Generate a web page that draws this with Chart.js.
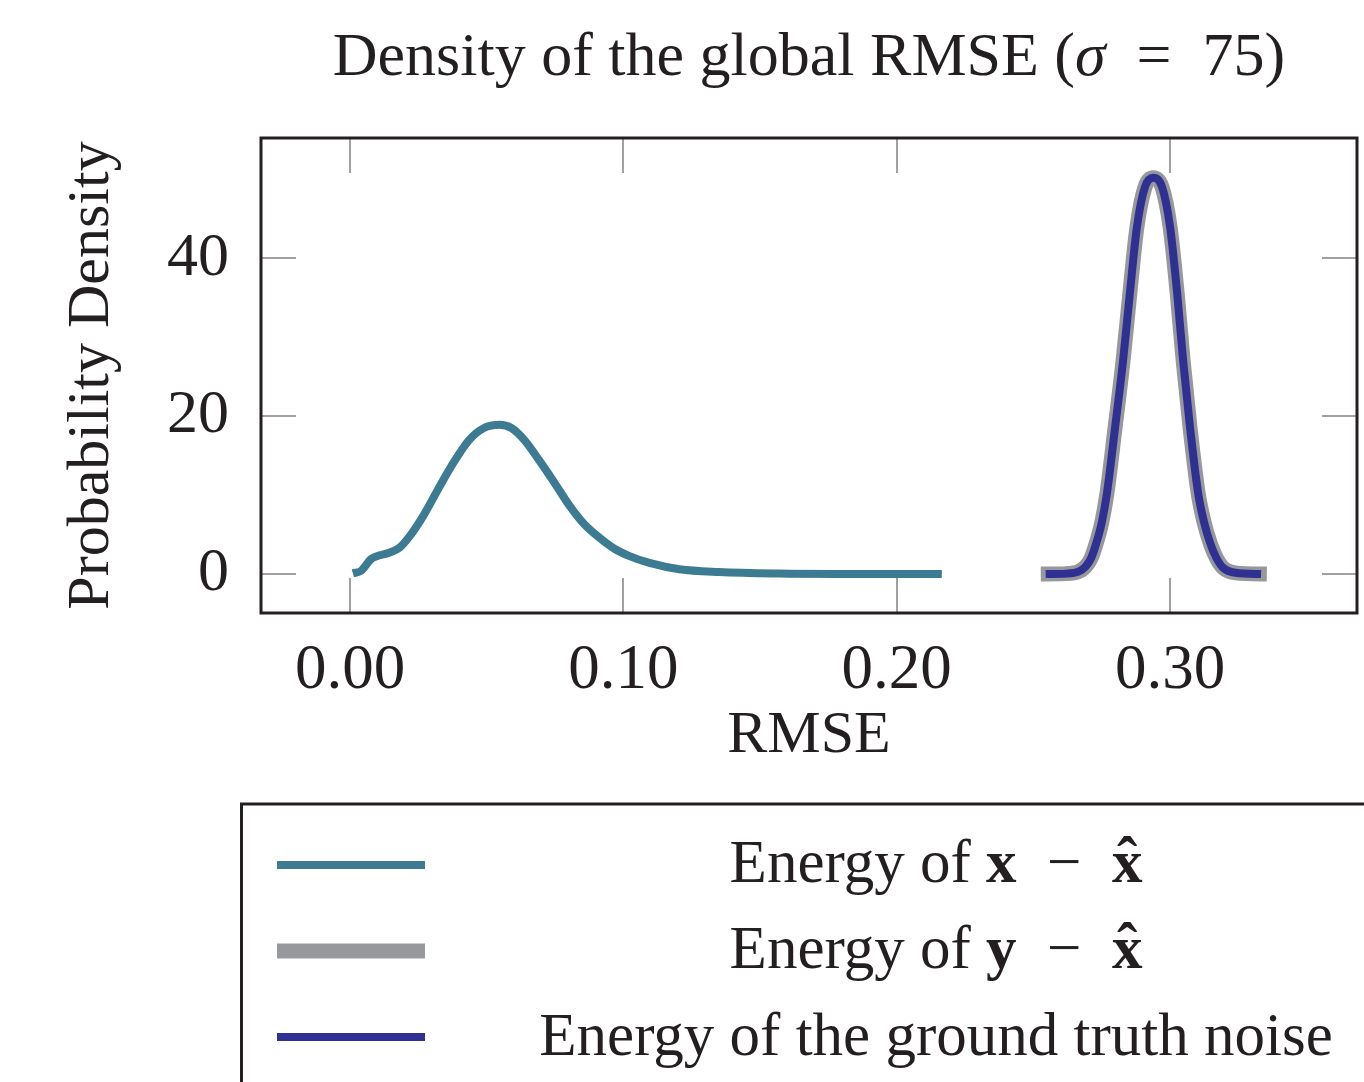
<!DOCTYPE html>
<html lang="en">
<head>
<meta charset="UTF-8" />
<title>Density of the global RMSE</title>
<script src="https://cdn.jsdelivr.net/npm/chart.js"></script>
<style>
    body { margin: 0; background: #fff; }
    canvas { display: block; }
</style>
</head>
<body>
<canvas id="rmseChart" width="1364" height="1082"></canvas>
<script>
    // tick values
    const xTicks = [0, 0.1, 0.2, 0.3]
    const yTicks = [0, 20, 40]

    // Energy of x - x_hat
    const xErrX = [0.001, 0.004, 0.0077, 0.0143, 0.018, 0.0216, 0.027, 0.0326, 0.038, 0.0436, 0.049, 0.0546, 0.059, 0.0637, 0.0692, 0.0747, 0.0802, 0.0857, 0.0912, 0.0967, 0.102, 0.1095, 0.1205, 0.135, 0.157, 0.183, 0.2165]
    const xErrY = [0.1, 0.4, 1.9, 2.7, 3.3, 4.7, 7.5, 11, 14.2, 17, 18.5, 18.9, 18.5, 17, 14.4, 11.6, 8.7, 6.3, 4.6, 3.2, 2.3, 1.4, 0.6, 0.25, 0.06, 0.01, 0]

    // Energy of y - x_hat
    const yErrX = [0.2527, 0.262, 0.2665, 0.269, 0.2711, 0.273, 0.275, 0.2769, 0.2799, 0.2828, 0.2853, 0.2879, 0.2908, 0.2938, 0.2971, 0.3, 0.3026, 0.3048, 0.3073, 0.3103, 0.3125, 0.3147, 0.317, 0.3194, 0.324, 0.3354]
    const yErrY = [0, 0.05, 0.3, 0.9, 2.0, 3.9, 6.5, 10.2, 18.6, 27, 35.6, 44, 49, 50.2, 49, 44, 35.6, 27, 18.6, 10.2, 6.5, 3.9, 2.0, 0.8, 0.15, 0]

    // Energy of the ground truth noise
    const noiseX = [0.2545, 0.262, 0.2665, 0.269, 0.2711, 0.273, 0.275, 0.2769, 0.2799, 0.2828, 0.2853, 0.2879, 0.2908, 0.2938, 0.2971, 0.3, 0.3026, 0.3048, 0.3073, 0.3103, 0.3125, 0.3147, 0.317, 0.3194, 0.324, 0.3333]
    const noiseY = [0, 0.05, 0.3, 0.9, 2.0, 3.9, 6.5, 10.2, 18.6, 27, 35.6, 44, 49, 50.2, 49, 44, 35.6, 27, 18.6, 10.2, 6.5, 3.9, 2.0, 0.8, 0.15, 0]

    const seriesColors = ["#3d7b92", "#97989c", "#2e3192"]
    const seriesWidths = [8, 15, 8]

    // legend texts, split so the math parts can be set in bold
    const legendTexts = [
        [["Energy of ", ""], ["x", "bold"], ["\u2002\u2212\u2002", ""], ["x", "hat"]],
        [["Energy of ", ""], ["y", "bold"], ["\u2002\u2212\u2002", ""], ["x", "hat"]],
        [["Energy of the ground truth noise", ""]],
    ]

    const SERIF = '"Liberation Serif", "DejaVu Serif", serif'
    const INK = "#231f20"

    function toPoints(xs, ys) {
        return xs.map((x, i) => ({ x: x, y: ys[i] }))
    }

    // draws a line of text pieces centered on cx
    function drawPieces(ctx, pieces, cx, baseline, size) {
        const fontOf = (kind) => {
            if (kind === "italic") return "italic " + size + "px " + SERIF
            return (kind ? "bold " : "") + size + "px " + SERIF
        }
        let total = 0
        pieces.forEach(([t, kind]) => {
            ctx.font = fontOf(kind)
            total += ctx.measureText(t).width
        })
        let x = cx - total / 2
        ctx.textAlign = "left"
        ctx.textBaseline = "alphabetic"
        pieces.forEach(([t, kind]) => {
            ctx.font = fontOf(kind)
            const w = ctx.measureText(t).width
            ctx.fillText(t, x, baseline)
            if (kind === "hat") {
                ctx.textAlign = "center"
                ctx.fillText("\u02c6", x + w / 2, baseline - 2)
                ctx.textAlign = "left"
            }
            x += w
        })
    }

    const framePlugin = {
        id: "frame",
        beforeDatasetsDraw(chart) {
            const { ctx, chartArea: a, scales } = chart
            ctx.save()
            ctx.strokeStyle = "#a0a0a4"
            ctx.lineWidth = 2
            const len = 35
            xTicks.forEach((v) => {
                const px = Math.round(scales.x.getPixelForValue(v))
                ctx.beginPath()
                ctx.moveTo(px, a.top)
                ctx.lineTo(px, a.top + len)
                ctx.moveTo(px, a.bottom)
                ctx.lineTo(px, a.bottom - len)
                ctx.stroke()
            })
            yTicks.forEach((v) => {
                const py = Math.round(scales.y.getPixelForValue(v))
                ctx.beginPath()
                ctx.moveTo(a.left, py)
                ctx.lineTo(a.left + len, py)
                ctx.moveTo(a.right, py)
                ctx.lineTo(a.right - len, py)
                ctx.stroke()
            })
            ctx.restore()
        },
        afterDraw(chart) {
            const { ctx, chartArea: a } = chart
            ctx.save()
            ctx.strokeStyle = INK
            ctx.lineWidth = 3
            ctx.strokeRect(a.left, a.top, a.right - a.left, a.bottom - a.top)

            ctx.fillStyle = INK
            const cx = (a.left + a.right) / 2
            // title
            drawPieces(ctx, [["Density of the global RMSE (", ""], ["\u03c3", "italic"], ["\u2002=\u200275)", ""]], cx, 75, 62)

            // axis titles
            ctx.textAlign = "center"
            ctx.font = "60px " + SERIF
            ctx.fillText("RMSE", cx, 752)
            ctx.save()
            ctx.translate(108, (a.top + a.bottom) / 2)
            ctx.rotate(-Math.PI / 2)
            ctx.fillText("Probability Density", 0, 0)
            ctx.restore()

            // legend box
            ctx.strokeRect(241.5, 804, 1200, 400)
            const rowY = [865, 951, 1037]
            const baseY = [882, 968, 1055]
            rowY.forEach((y, i) => {
                ctx.strokeStyle = seriesColors[i]
                ctx.lineWidth = seriesWidths[i]
                ctx.beginPath()
                ctx.moveTo(277, y)
                ctx.lineTo(425, y)
                ctx.stroke()
                drawPieces(ctx, legendTexts[i], 936, baseY[i], 61)
            })
            ctx.restore()
        },
    }

    const ctx = document.getElementById("rmseChart").getContext("2d")
    const chart = new Chart(ctx, {
        type: "line",
        data: {
            datasets: [
                {
                    label: "Energy of x - x_hat",
                    data: toPoints(xErrX, xErrY),
                    borderColor: seriesColors[0],
                    borderWidth: seriesWidths[0],
                    order: 2,
                },
                {
                    label: "Energy of y - x_hat",
                    data: toPoints(yErrX, yErrY),
                    borderColor: seriesColors[1],
                    borderWidth: seriesWidths[1],
                    order: 3,
                },
                {
                    label: "Energy of the ground truth noise",
                    data: toPoints(noiseX, noiseY),
                    borderColor: seriesColors[2],
                    borderWidth: seriesWidths[2],
                    order: 1,
                },
            ],
        },
        options: {
            responsive: false,
            animation: false,
            cubicInterpolationMode: "monotone",
            elements: { point: { radius: 0 }, line: { fill: false, borderJoinStyle: "round" } },
            layout: { padding: { top: 138, right: 7, bottom: 0, left: 0 } },
            plugins: { legend: { display: false }, tooltip: { enabled: false }, title: { display: false } },
            scales: {
                x: {
                    type: "linear",
                    min: -0.0326,
                    max: 0.3684,
                    afterBuildTicks: (s) => { s.ticks = xTicks.map((v) => ({ value: v })) },
                    afterFit: (s) => { s.height = 1082 - 613 },
                    grid: { display: false },
                    border: { display: false },
                    ticks: {
                        padding: 13,
                        color: INK,
                        font: { family: SERIF, size: 63 },
                        maxRotation: 0,
                        callback: (v) => v.toFixed(2),
                    },
                },
                y: {
                    min: -4.94,
                    max: 55.25,
                    afterBuildTicks: (s) => { s.ticks = yTicks.map((v) => ({ value: v })) },
                    afterFit: (s) => { s.width = 261 },
                    grid: { display: false },
                    border: { display: false },
                    ticks: {
                        padding: 24,
                        color: INK,
                        font: { family: SERIF, size: 62 },
                    },
                },
            },
        },
        plugins: [framePlugin],
    })
</script>
</body>
</html>
